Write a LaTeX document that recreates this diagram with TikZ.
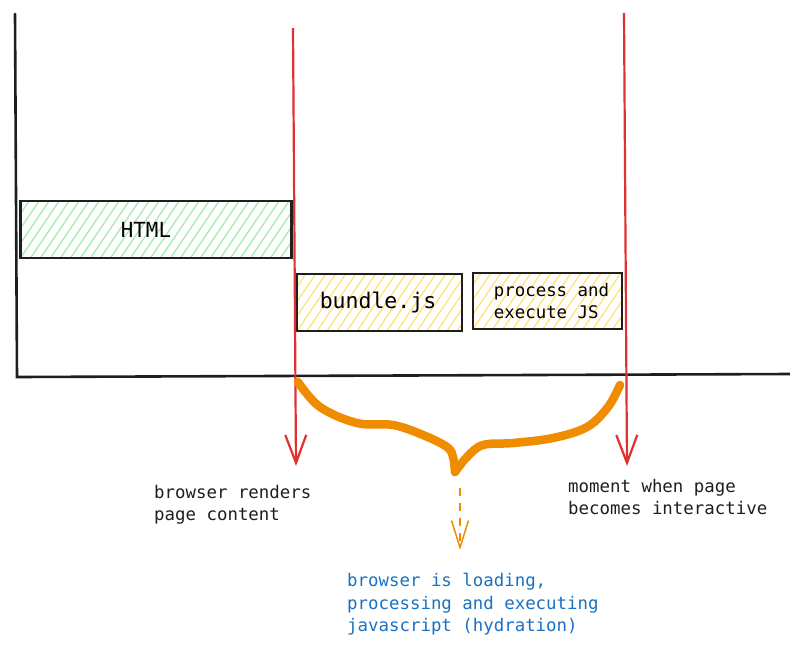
\documentclass[tikz,border=0pt]{standalone}
\usepackage{fontspec}
\setmonofont{DejaVu Sans Mono}
\usetikzlibrary{arrows.meta}
\definecolor{inkblack}{HTML}{1E1E1E}
\definecolor{inkred}{HTML}{E03131}
\definecolor{inkorange}{HTML}{F08C00}
\definecolor{inkblue}{HTML}{1971C2}
\definecolor{hatchgreen}{HTML}{A5EBB0}
\definecolor{hatchyellow}{HTML}{FFE27A}
\begin{document}
\begin{tikzpicture}[x=1pt,y=-1pt,
  axis/.style={draw=inkblack,line width=2.6pt,line cap=round},
  hatch/.style={path picture={\foreach \k in {-80,-70,...,300}{\draw[#1,line width=1.3pt] ([xshift=\k pt]path picture bounding box.south west) -- ++(42,-62);}}},
  timebox/.style={draw=inkblack,line width=2.2pt,inner sep=0pt,font=\ttfamily},
  redarrow/.style={draw=inkred,line width=2.2pt,-{Straight Barb[length=28pt,width=21pt,line width=2.2pt]}},
  label/.style={inner sep=0pt,anchor=north west,align=left,font=\ttfamily\fontsize{17.4}{21.8}\selectfont,text=inkblack}
]
\useasboundingbox (0,0) rectangle (790,649);
% axes
\coordinate (ytop) at (15,14);
\coordinate (orig) at (17,377);
\coordinate (xend) at (790,374);
\draw[axis] (ytop) -- (orig) -- (xend);
% boxes
\node[timebox,hatch=hatchgreen,minimum width=271pt,minimum height=57pt,font=\ttfamily\fontsize{20.8}{24}\selectfont] (html) at (156,229.5) {HTML\kern20pt};
\node[timebox,hatch=hatchyellow,minimum width=165pt,minimum height=57pt,font=\ttfamily\fontsize{21.5}{24}\selectfont] (bundle) at (379.5,302.5) {bundle.js\kern3pt};
\node[timebox,hatch=hatchyellow,minimum width=149pt,minimum height=56pt,align=left,font=\ttfamily\fontsize{17.4}{21.8}\selectfont] (proc) at (547.5,301) {\hspace{8pt}process and\\\hspace{8pt}execute JS};
% red arrows
\coordinate (r1top) at (293,28);
\coordinate (r1bot) at (296,466);
\coordinate (r2top) at (624,13);
\coordinate (r2bot) at (627,466);
\draw[redarrow] (r1top) -- (r1bot);
\draw[redarrow] (r2top) -- (r2bot);
% orange brace
\coordinate (tip) at (455,472);
\draw[inkorange,line width=8.5pt,line cap=round,line join=round]
  plot[smooth,tension=0.6] coordinates {(298,382) (320,407) (357,423) (393,425) (423,435) (447,447) (453,457) (455,472)};
\draw[inkorange,line width=8.5pt,line cap=round,line join=round]
  plot[smooth,tension=0.6] coordinates {(455,472) (467,457) (483,445) (513,443) (553,438) (587,427) (608,407) (620,385)};
\coordinate (dtop) at (460,488);
\coordinate (dbot) at (460,550);
\draw[inkorange,line width=1.5pt,dash pattern=on 8pt off 7pt,-{Straight Barb[length=27pt,width=17pt,line width=1.5pt]}] (dtop) -- (dbot);
% labels
\node[label] (lrender) at (154,485) {browser renders\\page content};
\node[label] (linter) at (568,479) {moment when page\\becomes interactive};
\node[label,text=inkblue,font=\ttfamily\fontsize{17.4}{22.5}\selectfont] (lhyd) at (347,573) {browser is loading,\\processing and executing\\javascript (hydration)};
\end{tikzpicture}
\end{document}
